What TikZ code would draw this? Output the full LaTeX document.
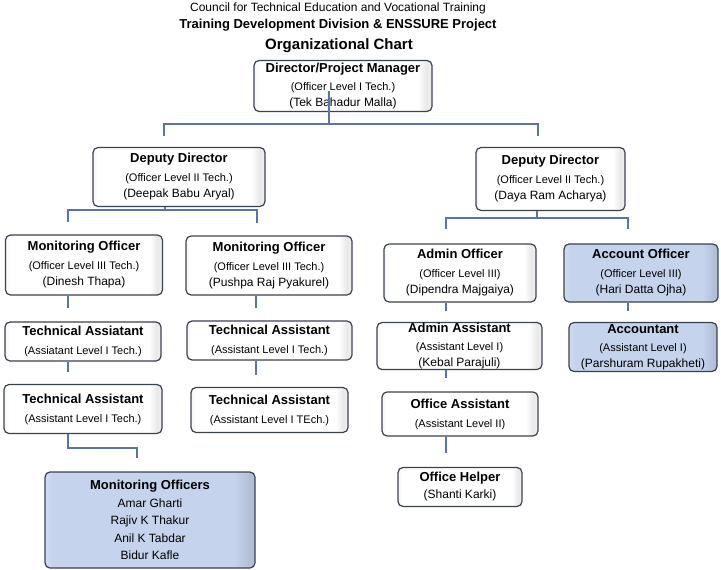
\documentclass[tikz,border=0pt]{standalone}
\usepackage{fontspec}
\setmainfont{Liberation Sans}

\definecolor{boxline}{RGB}{58,66,80}
\definecolor{linkblue}{RGB}{88,116,168}
\definecolor{hiblue}{RGB}{197,211,237}

\pgfdeclarehorizontalshading{postshade}{100bp}{color(0bp)=(white); color(25bp)=(gray!8); color(26.5bp)=(white); color(71bp)=(white); color(73.5bp)=(gray!18); color(75bp)=(gray!10); color(100bp)=(gray!10)}
\pgfdeclarehorizontalshading{hishade}{100bp}{color(0bp)=(hiblue); color(25bp)=(hiblue!80!white); color(27bp)=(hiblue); color(70bp)=(hiblue); color(74bp)=(hiblue!90!black); color(100bp)=(hiblue!90!black)}

\newcommand\ttl[1]{{\fontsize{13}{16}\bfseries #1}}
\newcommand\lvl[1]{{\fontsize{11}{16}\selectfont #1}}

\tikzstyle{post}=[draw=boxline, line width=1.2pt, rounded corners=5pt, shading=postshade, align=center, inner xsep=2pt, inner ysep=0pt, font=\fontsize{12}{16}\selectfont]
\tikzstyle{posthi}=[post, shading=hishade]
\tikzstyle{link}=[draw=linkblue, line width=1.3pt]

\begin{document}
\begin{tikzpicture}[x=1pt, y=-1pt]
\useasboundingbox (0,0) rectangle (721,570);

% heading
\node[anchor=base, font=\fontsize{12}{14}\selectfont] (council) at (338,11) {Council for Technical Education and Vocational Training};
\node[anchor=base, font=\fontsize{13}{15}\bfseries] (division) at (338,28) {Training Development Division \& ENSSURE Project};
\node[anchor=base, font=\fontsize{15}{18}\bfseries] (chart) at (339,49) {Organizational Chart};

\node[post, minimum width=178pt, minimum height=51pt] (dir) at (343,86)
  {\ttl{Director/Project Manager}\\[2pt]\lvl{(Officer Level I Tech.)}\\(Tek Bahadur Malla)};

\node[post, minimum width=172pt, minimum height=59pt] (depL) at (179,177)
  {\ttl{Deputy Director}\\[3pt]\lvl{(Officer Level II Tech.)}\\(Deepak Babu Aryal)};
\node[post, minimum width=149pt, minimum height=63pt] (depR) at (550.5,179)
  {\ttl{Deputy Director}\\[3pt]\lvl{(Officer Level II Tech.)}\\(Daya Ram Acharya)};

% left branch
\node[post, minimum width=157pt, minimum height=60pt] (mon1) at (84,265)
  {\ttl{Monitoring Officer}\\[3pt]\lvl{(Officer Level III Tech.)}\\(Dinesh Thapa)};
\node[post, minimum width=166pt, minimum height=59pt] (mon2) at (269,265.5)
  {\ttl{Monitoring Officer}\\[3pt]\lvl{(Officer Level III Tech.)}\\(Pushpa Raj Pyakurel)};
\node[post, minimum width=156pt, minimum height=39pt] (techA1) at (83,341.5)
  {\ttl{Technical Assiatant}\\[3pt]\lvl{(Assiatant Level I Tech.)}};
\node[post, minimum width=165pt, minimum height=39pt] (techA2) at (269.5,340.5)
  {\ttl{Technical Assistant}\\[3pt]\lvl{(Assistant Level I Tech.)}};
\node[post, minimum width=158pt, minimum height=49pt] (techA3) at (83,409)
  {\ttl{Technical Assistant}\\[3pt]\lvl{(Assistant Level I Tech.)}};
\node[post, minimum width=157pt, minimum height=45pt] (techA4) at (269.5,410)
  {\ttl{Technical Assistant}\\[3pt]\lvl{(Assistant Level I TEch.)}};
\node[posthi, minimum width=210pt, minimum height=96pt, font=\fontsize{12}{17.5}\selectfont] (monGrp) at (150,520)
  {\ttl{Monitoring Officers}\\Amar Gharti\\Rajiv K Thakur\\Anil K Tabdar\\Bidur Kafle};

% right branch
\node[post, minimum width=152pt, minimum height=58pt] (admOff) at (460,273)
  {\ttl{Admin Officer}\\[3pt]\lvl{(Officer Level III)}\\(Dipendra Majgaiya)};
\node[posthi, minimum width=154pt, minimum height=58pt] (accOff) at (641,273)
  {\ttl{Account Officer}\\[3pt]\lvl{(Officer Level III)}\\(Hari Datta Ojha)};
\node[post, minimum width=165pt, minimum height=47pt] (admAsst) at (459.5,346)
  {\ttl{Admin Assistant}\\[2pt]\lvl{(Assistant Level I)}\\(Kebal Parajuli)};
\node[posthi, minimum width=148pt, minimum height=49pt] (acct) at (643,347)
  {\ttl{Accountant}\\[2pt]\lvl{(Assistant Level I)}\\(Parshuram Rupakheti)};
\node[post, minimum width=156pt, minimum height=44pt] (offAsst) at (460,414)
  {\ttl{Office Assistant}\\[3pt]\lvl{(Assistant Level II)}};
\node[post, minimum width=124pt, minimum height=39pt] (offHelp) at (460,487)
  {\ttl{Office Helper}\\[1pt](Shanti Karki)};

% connectors
\coordinate (hubTop) at (329,124);
\coordinate (hubL) at (165,210);
\coordinate (hubR) at (537,218);

\draw[link] ([xshift=-14pt,yshift=-5pt]dir.center) -- (hubTop);
\draw[link, shorten <=11pt, shorten >=11pt] ([xshift=-15pt]depL.north) |- (hubTop) -| ([xshift=-12.5pt]depR.north);

\draw[link] ([xshift=-14pt]depL.south) -- (hubL);
\draw[link, shorten <=12pt, shorten >=12pt] ([xshift=-16pt]mon1.north) |- (hubL) -| ([xshift=-12pt]mon2.north);

\draw[link] ([xshift=-13.5pt]depR.south) -- (hubR);
\draw[link, shorten <=14pt, shorten >=14pt] ([xshift=-14pt]admOff.north) |- (hubR) -| ([xshift=-13pt]accOff.north);

\draw[link, shorten >=13pt] ([xshift=-16pt]mon1.south) -- ([xshift=-16pt]mon1.south |- techA1.north);
\draw[link, shorten >=12pt] ([xshift=-13pt]mon2.south) -- ([xshift=-13pt]mon2.south |- techA2.north);
\draw[link, shorten >=12pt] ([xshift=-15pt]techA1.south) -- ([xshift=-15pt]techA1.south |- techA3.north);
\draw[link, shorten >=12pt] ([xshift=-13.5pt]techA2.south) -- ([xshift=-13.5pt]techA2.south |- techA4.north);
\draw[link, shorten >=13pt] ([xshift=-15pt]techA3.south) -- ++(0,14) -| ([xshift=-13pt]monGrp.north);

\draw[link, shorten >=11pt] ([xshift=-14pt]admOff.south) -- ([xshift=-14pt]admOff.south |- admAsst.north);
\draw[link, shorten >=11pt] ([xshift=-13pt]accOff.south) -- ([xshift=-13pt]accOff.south |- acct.north);
\draw[link, shorten >=13pt] ([xshift=-13.5pt]admAsst.south) -- ([xshift=-13.5pt]admAsst.south |- offAsst.north);
\draw[link, shorten >=14pt] ([xshift=-14pt]offAsst.south) -- ([xshift=-14pt]offAsst.south |- offHelp.north);
\end{tikzpicture}
\end{document}
